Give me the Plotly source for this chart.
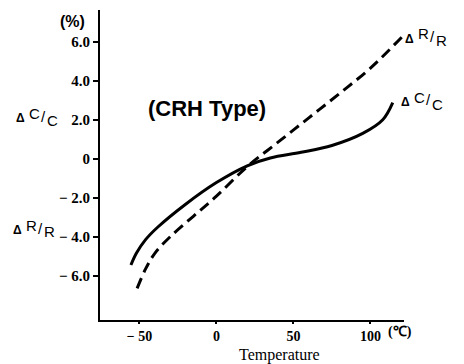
import plotly.graph_objects as go

# ---- data ----
temp_c_dc = [-55.5, -52, -46, -38, -20, 0, 20, 35, 55, 75, 95, 108, 114.5]
dc_c = [-5.45, -4.85, -4.15, -3.5, -2.33, -1.22, -0.36, 0.04, 0.33, 0.68, 1.3, 2.0, 2.88]

temp_c_dr = [-51.5, -46, -40, -30, -15, 0, 20, 40, 60, 80, 100, 120.5]
dr_r = [-6.65, -5.65, -4.85, -4.0, -2.95, -1.92, -0.4, 0.85, 2.1, 3.35, 4.65, 6.25]

x_tickvals = [-50, 0, 50, 100]
x_ticktext = ["\u2212 50", "0", "50", "100"]
y_tickvals = [6, 4, 2, 0, -2, -4, -6]
y_ticktext = ["6.0", "4.0", "2.0", "0", "\u2212 2.0", "\u2212 4.0", "\u2212 6.0"]

W, H = 464, 364
L, R, T, B = 100, 60, 10, 44
PW, PH = W - L - R, H - T - B

def px(x):
    return (x - L) / PW

def py(y):
    return (H - B - y) / PH

fig = go.Figure()
fig.add_trace(go.Scatter(x=temp_c_dc, y=dc_c, mode="lines", line=dict(color="black", width=3, shape="spline"),
                         showlegend=False, hoverinfo="skip"))
fig.add_trace(go.Scatter(x=temp_c_dr, y=dr_r, mode="lines",
                         line=dict(color="black", width=3, dash="11px,6px", shape="spline"),
                         showlegend=False, hoverinfo="skip"))

ann = []

def text(xp, yp, t, size, family="Liberation Sans", weight="normal"):
    ann.append(dict(x=px(xp), y=py(yp), xref="paper", yref="paper", text=t, showarrow=False,
                    xanchor="center", yanchor="middle",
                    font=dict(size=size, family=family, color="black", weight=weight)))

def frac(x0, y0, letter):
    text(x0, y0 + 1, "\u0394", 12, weight="bold")
    text(x0 + 14, y0 - 4, letter, 15)
    text(x0 + 23, y0 - 1, "/", 15)
    text(x0 + 32, y0 + 3, letter, 15)

frac(20, 117, "C")
frac(17, 229, "R")
frac(409, 38, "R")
frac(405, 101, "C")

text(72, 21, "(%)", 16, weight="bold")
text(207, 108, "(CRH Type)", 22, weight="bold")
text(279, 355, "Temperature", 16, family="Liberation Serif")
text(400, 332, "(\u2103)", 14, family="Liberation Serif", weight="bold")

fig.update_layout(
    width=W, height=H, margin=dict(l=L, r=R, t=T, b=B),
    paper_bgcolor="white", plot_bgcolor="white",
    annotations=ann,
    xaxis=dict(range=[-75.6, 121.8], tickvals=x_tickvals, ticktext=x_ticktext,
               showline=True, linecolor="black", linewidth=2, ticks="outside", ticklen=2,
               tickwidth=2, tickcolor="black", showgrid=False, zeroline=False,
               tickfont=dict(family="Liberation Serif", size=14, color="black", weight="bold")),
    yaxis=dict(range=[-8.27, 7.63], tickvals=y_tickvals, ticktext=y_ticktext,
               showline=True, linecolor="black", linewidth=2, ticks="outside", ticklen=5,
               tickwidth=2, tickcolor="black", showgrid=False, zeroline=False,
               tickfont=dict(family="Liberation Serif", size=15, color="black", weight="bold")),
)

fig.write_html("out.html")
